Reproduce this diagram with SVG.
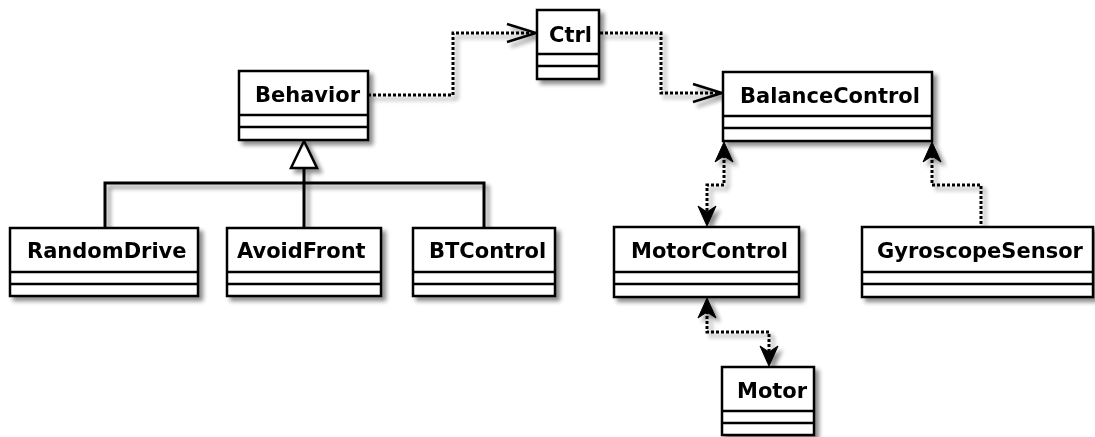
<svg xmlns="http://www.w3.org/2000/svg" width="1095" height="437" viewBox="0 0 1095 437">
<style>
.box{fill:#fff;stroke:#000;stroke-width:2.5}
.div{stroke:#000;stroke-width:2.5}
.t{font-family:"DejaVu Sans",sans-serif;font-weight:bold;font-size:21px;fill:#000}
.dot{fill:none;stroke:#000;stroke-width:3;stroke-dasharray:3,2}
.solid{fill:none;stroke:#000;stroke-width:3}
.open{fill:none;stroke:#000;stroke-width:2.5}
.filled{fill:#000;stroke:#000;stroke-width:1}
</style>
<defs>
<filter id="sh" x="-10%" y="-10%" width="130%" height="140%">
<feGaussianBlur in="SourceAlpha" stdDeviation="2"/>
<feOffset dx="4" dy="4" result="b"/>
<feComponentTransfer><feFuncA type="linear" slope="0.45"/></feComponentTransfer>
<feMerge><feMergeNode/><feMergeNode in="SourceGraphic"/></feMerge>
</filter>
</defs>
<g id="connectors" filter="url(#sh)">
<path class="dot" d="M368,95 H453 V33 H534"/>
<path class="open" d="M507,24 L536,33 L507,42"/>
<path class="dot" d="M600,33 H661 V93 H720"/>
<path class="open" d="M693,84 L722,93 L693,102"/>
<path class="dot" d="M724,155 V185 H707 V213"/>
<path class="filled" d="M724,142 L733,162 L724,156 L715,162 Z"/>
<path class="filled" d="M707,226 L716,206 L707,212 L698,206 Z"/>
<path class="dot" d="M932,155 V185 H981 V227"/>
<path class="filled" d="M932,142 L941,162 L932,156 L923,162 Z"/>
<path class="dot" d="M707,311 V332 H769 V352"/>
<path class="filled" d="M707,298 L716,318 L707,312 L698,318 Z"/>
<path class="filled" d="M769,366 L778,346 L769,352 L760,346 Z"/>
<path class="solid" d="M105,228 V183 H484 V228 M304,228 V168"/>
<path d="M304,141 L291,168 L317,168 Z" fill="#fff" stroke="#000" stroke-width="2.5"/>
</g>
<g id="Ctrl" filter="url(#sh)">
<rect class="box" x="537" y="10" width="62" height="69"/>
<path class="div" d="M537,54 H599 M537,66 H599"/>
<text class="t" x="549" y="42">Ctrl</text>
</g>
<g id="Behavior" filter="url(#sh)">
<rect class="box" x="239" y="71" width="129" height="69"/>
<path class="div" d="M239,115 H368 M239,127 H368"/>
<text class="t" x="255" y="102">Behavior</text>
</g>
<g id="BalanceControl" filter="url(#sh)">
<rect class="box" x="723" y="72" width="209" height="69"/>
<path class="div" d="M723,116 H932 M723,128 H932"/>
<text class="t" x="740" y="103">BalanceControl</text>
</g>
<g id="RandomDrive" filter="url(#sh)">
<rect class="box" x="10" y="228" width="188" height="68"/>
<path class="div" d="M10,272 H198 M10,284 H198"/>
<text class="t" x="27" y="258">RandomDrive</text>
</g>
<g id="AvoidFront" filter="url(#sh)">
<rect class="box" x="227" y="228" width="154" height="68"/>
<path class="div" d="M227,272 H381 M227,284 H381"/>
<text class="t" x="237" y="258">AvoidFront</text>
</g>
<g id="BTControl" filter="url(#sh)">
<rect class="box" x="413" y="228" width="142" height="68"/>
<path class="div" d="M413,272 H555 M413,284 H555"/>
<text class="t" x="429" y="258">BTControl</text>
</g>
<g id="MotorControl" filter="url(#sh)">
<rect class="box" x="614" y="227" width="185" height="70"/>
<path class="div" d="M614,272 H799 M614,284 H799"/>
<text class="t" x="631" y="258">MotorControl</text>
</g>
<g id="GyroscopeSensor" filter="url(#sh)">
<rect class="box" x="862" y="227" width="231" height="70"/>
<path class="div" d="M862,272 H1093 M862,284 H1093"/>
<text class="t" x="877" y="258">GyroscopeSensor</text>
</g>
<g id="Motor" filter="url(#sh)">
<rect class="box" x="722" y="367" width="92" height="68"/>
<path class="div" d="M722,411 H814 M722,423 H814"/>
<text class="t" x="737" y="398">Motor</text>
</g>
</svg>
